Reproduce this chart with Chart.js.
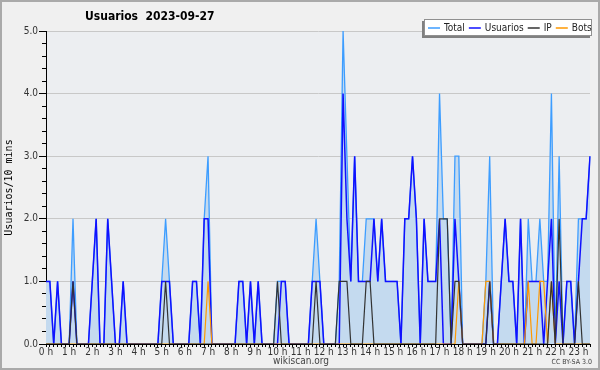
<!DOCTYPE html>
<html lang="es">
<head>
  <meta charset="UTF-8" />
  <title>Usuarios 2023-09-27</title>
  <script src="https://cdn.jsdelivr.net/npm/chart.js"></script>
  <style>
    html, body { margin: 0; padding: 0; background: #f0f0f0; }
    #wrap { width: 600px; height: 370px; }
  </style>
</head>
<body>
  <div id="wrap"><canvas id="usersChart" width="600" height="370"></canvas></div>
  <script>
    // hour labels for the x axis, one slot every 10 minutes
    const hourLabels = ['0 h', '1 h', '2 h', '3 h', '4 h', '5 h', '6 h', '7 h', '8 h', '9 h', '10 h', '11 h',
      '12 h', '13 h', '14 h', '15 h', '16 h', '17 h', '18 h', '19 h', '20 h', '21 h', '22 h', '23 h'];
    const slotsPerHour = 6;
    const slotCount = 142; // 00:00 .. 23:30

    const seriesNames = ['Total', 'Usuarios', 'IP', 'Bots'];

    const total = [
      1, 1, 0, 1, 0, 0, 0, 2, 0, 0,
      0, 0, 1, 2, 0, 0, 2, 1, 0, 0,
      1, 0, 0, 0, 0, 0, 0, 0, 0, 0,
      1, 2, 1, 0, 0, 0, 0, 0, 1, 1,
      0, 2, 3, 0, 0, 0, 0, 0, 0, 0,
      1, 1, 0, 1, 0, 1, 0, 0, 0, 0,
      1, 1, 1, 0, 0, 0, 0, 0, 0, 1,
      2, 1, 0, 0, 0, 0, 1, 5, 3, 1,
      3, 1, 1, 2, 2, 2, 1, 2, 1, 1,
      1, 1, 0, 2, 2, 3, 2, 0, 2, 1,
      1, 1, 4, 2, 2, 0, 3, 3, 0, 0,
      0, 0, 0, 0, 1, 3, 0, 0, 1, 2,
      1, 1, 0, 2, 0, 2, 1, 1, 2, 1,
      1, 4, 0, 3, 0, 1, 1, 0, 2, 2,
      2, 3
    ];
    const usuarios = [
      1, 1, 0, 1, 0, 0, 0, 1, 0, 0,
      0, 0, 1, 2, 0, 0, 2, 1, 0, 0,
      1, 0, 0, 0, 0, 0, 0, 0, 0, 0,
      1, 1, 1, 0, 0, 0, 0, 0, 1, 1,
      0, 2, 2, 0, 0, 0, 0, 0, 0, 0,
      1, 1, 0, 1, 0, 1, 0, 0, 0, 0,
      0, 1, 1, 0, 0, 0, 0, 0, 0, 1,
      1, 1, 0, 0, 0, 0, 0, 4, 2, 1,
      3, 1, 1, 1, 1, 2, 1, 2, 1, 1,
      1, 1, 0, 2, 2, 3, 2, 0, 2, 1,
      1, 1, 2, 0, 0, 0, 2, 1, 0, 0,
      0, 0, 0, 0, 0, 1, 0, 0, 1, 2,
      1, 1, 0, 2, 0, 1, 1, 1, 1, 0,
      1, 2, 0, 1, 0, 1, 1, 0, 1, 2,
      2, 3
    ];
    const ip = [
      0, 0, 0, 0, 0, 0, 0, 1, 0, 0,
      0, 0, 0, 0, 0, 0, 0, 0, 0, 0,
      0, 0, 0, 0, 0, 0, 0, 0, 0, 0,
      0, 1, 0, 0, 0, 0, 0, 0, 0, 0,
      0, 0, 0, 0, 0, 0, 0, 0, 0, 0,
      0, 0, 0, 0, 0, 0, 0, 0, 0, 0,
      1, 0, 0, 0, 0, 0, 0, 0, 0, 0,
      1, 0, 0, 0, 0, 0, 1, 1, 1, 0,
      0, 0, 0, 1, 1, 0, 0, 0, 0, 0,
      0, 0, 0, 0, 0, 0, 0, 0, 0, 0,
      0, 0, 2, 2, 2, 0, 1, 1, 0, 0,
      0, 0, 0, 0, 0, 1, 0, 0, 0, 0,
      0, 0, 0, 0, 0, 0, 0, 0, 0, 0,
      0, 1, 0, 2, 0, 0, 0, 0, 1, 0,
      0, 0
    ];
    const bots = [
      0, 0, 0, 0, 0, 0, 0, 0, 0, 0,
      0, 0, 0, 0, 0, 0, 0, 0, 0, 0,
      0, 0, 0, 0, 0, 0, 0, 0, 0, 0,
      0, 0, 0, 0, 0, 0, 0, 0, 0, 0,
      0, 0, 1, 0, 0, 0, 0, 0, 0, 0,
      0, 0, 0, 0, 0, 0, 0, 0, 0, 0,
      0, 0, 0, 0, 0, 0, 0, 0, 0, 0,
      0, 0, 0, 0, 0, 0, 0, 0, 0, 0,
      0, 0, 0, 0, 0, 0, 0, 0, 0, 0,
      0, 0, 0, 0, 0, 0, 0, 0, 0, 0,
      0, 0, 0, 0, 0, 0, 0, 1, 0, 0,
      0, 0, 0, 0, 1, 1, 0, 0, 0, 0,
      0, 0, 0, 0, 0, 1, 0, 0, 1, 1,
      0, 1, 0, 0, 0, 0, 0, 0, 0, 0,
      0, 0
    ];

    const colors = {
      Total: '#3d9dff',
      Usuarios: '#1010ff',
      IP: '#333333',
      Bots: '#ff9900'
    };
    const totalAreaColor = '#c4daef';

    // one category per 10 minute slot
    const slotLabels = [];
    for (let i = 0; i < slotCount; i++) {
      slotLabels.push(i % slotsPerHour === 0 ? hourLabels[i / slotsPerHour] : '');
    }

    const condensed = '"DejaVu Sans Condensed", "DejaVu Sans", sans-serif';
    const isWhole = v => Math.abs(v - Math.round(v)) < 1e-6;

    // background, plot area, title, legend box and footer
    const decor = {
      id: 'decor',
      beforeDraw(chart) {
        const c = chart.ctx, a = chart.chartArea;
        c.save();
        c.fillStyle = '#f0f0f0';
        c.fillRect(0, 0, chart.width, chart.height);
        c.strokeStyle = '#aaaaaa';
        c.lineWidth = 2;
        c.strokeRect(1, 1, chart.width - 2, chart.height - 2);
        c.fillStyle = '#eceef1';
        c.fillRect(a.left, a.top, a.right - a.left, a.bottom - a.top);
        c.restore();
      },
      afterDraw(chart) {
        const c = chart.ctx;
        c.save();
        c.fillStyle = '#000';
        c.font = 'bold 12px ' + condensed;
        c.textBaseline = 'middle';
        c.fillText('Usuarios  2023-09-27', 85, 17);

        // legend box
        const bx = 424, by = 19, bw = 168, bh = 17;
        c.fillStyle = '#808080';
        c.fillRect(bx - 2, by + 2, bw, bh);
        c.fillStyle = '#ffffff';
        c.fillRect(bx, by, bw, bh);
        c.strokeStyle = '#909090';
        c.lineWidth = 1;
        c.strokeRect(bx + 0.5, by + 0.5, bw - 1, bh - 1);
        c.font = '10px ' + condensed;
        let x = bx + 4;
        const ly = by + bh / 2 + 0.5;
        seriesNames.forEach(name => {
          c.strokeStyle = colors[name];
          c.lineWidth = 1.5;
          c.beginPath();
          c.moveTo(x, ly);
          c.lineTo(x + 12, ly);
          c.stroke();
          c.fillStyle = '#222';
          c.fillText(name, x + 16, ly);
          x += 16 + c.measureText(name).width + 4;
        });

        c.fillStyle = '#444';
        c.font = '10px ' + condensed;
        c.textAlign = 'center';
        c.fillText('wikiscan.org', 301, 361);
        c.font = '7px ' + condensed;
        c.textAlign = 'right';
        c.fillText('CC BY-SA 3.0', 592, 362);
        c.restore();
      }
    };

    // shaded area under the Total line, from the points the line controller placed
    const totalArea = {
      id: 'totalArea',
      beforeDatasetsDraw(chart) {
        const pts = chart.getDatasetMeta(0).data;
        if (!pts.length) return;
        const base = chart.scales.y.getPixelForValue(0);
        const c = chart.ctx, a = chart.chartArea;
        c.save();
        c.beginPath();
        c.rect(a.left, a.top, a.right - a.left, a.bottom - a.top);
        c.clip();
        c.beginPath();
        c.moveTo(pts[0].x, base);
        pts.forEach(p => c.lineTo(p.x, p.y));
        c.lineTo(pts[pts.length - 1].x, base);
        c.closePath();
        c.fillStyle = totalAreaColor;
        c.fill();
        c.restore();
      }
    };

    function line(name, values, width, order) {
      return {
        label: name,
        data: values,
        borderColor: colors[name],
        borderWidth: width,
        backgroundColor: 'transparent',
        fill: false,
        pointRadius: 0,
        tension: 0,
        order: order
      };
    }

    new Chart(document.getElementById('usersChart'), {
      type: 'line',
      data: {
        labels: slotLabels,
        datasets: [
          line('Total', total, 1.3, 4),
          line('Usuarios', usuarios, 1.5, 3),
          line('IP', ip, 1.2, 1),
          line('Bots', bots, 1.2, 2)
        ]
      },
      plugins: [decor, totalArea],
      options: {
        responsive: false,
        animation: false,
        layout: { padding: { left: 2, top: 31, right: 10, bottom: 0 } },
        plugins: {
          legend: { display: false },
          title: { display: false },
          tooltip: { enabled: false }
        },
        scales: {
          x: {
            afterFit(scale) { scale.height = 26; },
            border: { color: '#000', width: 1 },
            grid: { drawOnChartArea: false, tickColor: '#000', tickLength: 3 },
            ticks: {
              autoSkip: false,
              maxRotation: 0,
              minRotation: 0,
              padding: 0,
              color: '#333',
              font: { family: condensed, size: 10, lineHeight: 1 }
            }
          },
          y: {
            min: 0,
            max: 5,
            afterFit(scale) { scale.width = 44; },
            border: { color: '#000', width: 1 },
            grid: {
              color: ctx => (ctx.tick && ctx.tick.value > 0 && isWhole(ctx.tick.value)) ? '#c8c8c8' : 'rgba(0,0,0,0)',
              tickColor: '#000',
              tickLength: 7,
              // minor ticks: skip the outer 3px so they come out shorter
              tickBorderDash: ctx => (ctx.tick && isWhole(ctx.tick.value)) ? [] : [0, 3, 10]
            },
            ticks: {
              stepSize: 0.2,
              maxTicksLimit: 40,
              autoSkip: false,
              padding: 1,
              color: '#333',
              font: { family: condensed, size: 10 },
              callback: v => isWhole(v) ? Math.round(v).toFixed(1) : ''
            },
            title: {
              display: true,
              text: 'Usuarios/10 mins',
              color: '#000',
              padding: { top: 1, bottom: 0 },
              font: { family: '"DejaVu Sans Mono", monospace', size: 10 }
            }
          }
        }
      }
    });
  </script>
</body>
</html>
